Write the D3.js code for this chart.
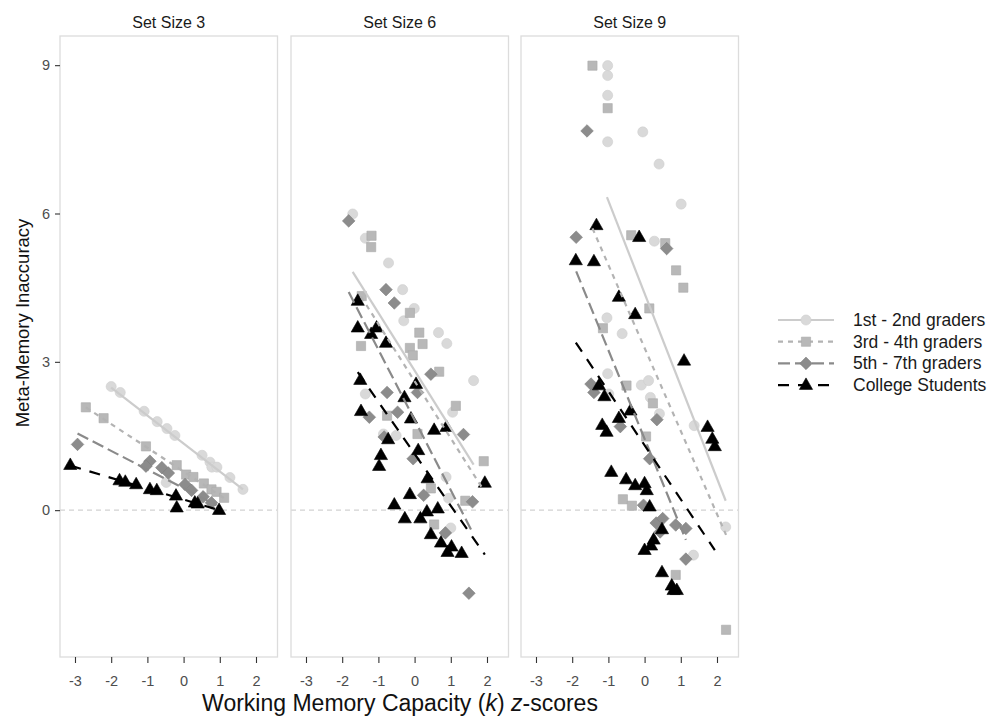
<!DOCTYPE html>
<html>
<head>
<meta charset="utf-8">
<script src="https://cdn.jsdelivr.net/npm/d3@7"></script>
<style>
  html, body { margin: 0; padding: 0; background: #fff; }
  svg { display: block; font-family: "Liberation Sans", Arial, Helvetica, sans-serif; }
</style>
</head>
<body>
<svg id="chart" width="997" height="717"></svg>
<script>
// ---------------- DATA ----------------
const panels = ["Set Size 3", "Set Size 6", "Set Size 9"];
const groups = ["1st - 2nd graders", "3rd - 4th graders", "5th - 7th graders", "College Students"];
const xTicks = [-3, -2, -1, 0, 1, 2];
const yTicks = [0, 3, 6, 9];

// Set Size 3 : [z-score, inaccuracy]
const ss3_g12 = [[-2.0,2.50],[-1.75,2.38],[-1.09,2.00],[-0.73,1.79],[-0.46,1.65],[-0.24,1.51],[-0.48,0.56],[0.51,1.11],[0.73,0.97],[0.78,0.87],[0.92,0.87],[1.28,0.66],[1.64,0.42]];
const ss3_g34 = [[-2.70,2.08],[-2.21,1.86],[-1.04,1.29],[-0.19,0.91],[0.07,0.72],[0.27,0.67],[0.56,0.54],[0.77,0.42],[0.91,0.37],[1.12,0.25]];
const ss3_g57 = [[-2.93,1.33],[-0.93,0.99],[-1.04,0.89],[-0.60,0.86],[-0.42,0.75],[0.04,0.52],[0.22,0.40],[0.54,0.27],[0.77,0.15]];
const ss3_col = [[-3.13,0.91],[-1.77,0.60],[-1.61,0.57],[-1.31,0.52],[-0.93,0.42],[-0.74,0.40],[-0.21,0.29],[-0.19,0.05],[0.31,0.15],[0.39,0.13],[0.98,0.0]];

// Set Size 6
const ss6_g12 = [[-1.71,5.99],[-1.36,5.50],[-0.72,5.00],[-0.33,4.46],[-0.01,4.08],[-0.30,3.83],[0.66,3.59],[0.89,3.37],[1.63,2.62],[-1.36,2.35],[1.05,1.98],[-0.86,1.54],[-0.51,1.51],[0.87,0.67],[0.94,0.24],[1.00,-0.36]];
const ss6_g34 = [[-1.19,5.55],[-1.20,5.32],[-1.46,4.33],[-0.13,3.99],[0.13,3.59],[0.22,3.36],[-0.13,3.28],[-0.05,3.13],[-1.48,3.32],[0.68,2.80],[1.14,2.11],[-0.76,1.91],[0.08,1.54],[1.91,0.99],[0.45,0.44],[1.40,0.19],[0.54,-0.29]];
const ss6_g57 = [[-1.82,5.85],[-0.79,4.46],[-0.56,4.19],[0.45,2.75],[-0.76,2.38],[0.08,2.38],[-1.25,1.88],[-0.47,1.98],[-0.84,1.48],[1.35,1.53],[-0.04,1.04],[0.25,0.30],[1.60,0.17],[0.85,-0.46],[1.50,-1.68]];
const ss6_col = [[-1.57,4.23],[-1.57,3.69],[-1.05,3.69],[-1.20,3.56],[-0.79,3.38],[-1.50,2.63],[0.04,2.55],[-0.28,2.28],[-1.48,2.00],[-0.10,1.85],[-0.73,1.43],[0.54,1.62],[0.88,1.68],[0.10,1.21],[-0.93,1.11],[-0.98,0.89],[0.36,0.64],[1.94,0.55],[-0.13,0.32],[-0.56,0.11],[0.34,-0.03],[0.64,0.03],[-0.27,-0.17],[0.16,-0.17],[0.45,-0.49],[0.73,-0.66],[1.02,-0.74],[0.91,-0.85],[1.30,-0.87]];

// Set Size 9
const ss9_g12 = [[-1.02,8.99],[-1.02,8.79],[-1.02,8.39],[-1.02,7.45],[-0.05,7.65],[0.40,7.00],[1.01,6.19],[0.27,5.44],[-1.04,3.89],[-0.62,3.57],[-1.02,2.76],[-0.99,2.35],[-0.09,2.53],[0.11,2.62],[0.16,2.28],[0.41,1.95],[1.37,1.71],[2.24,-0.34],[1.35,-0.91]];
const ss9_g34 = [[-1.44,8.99],[-1.02,8.13],[-0.37,5.56],[0.57,5.40],[0.87,4.85],[1.07,4.50],[0.13,4.08],[-1.15,3.68],[-0.50,2.52],[0.23,2.16],[0.04,1.49],[-0.60,0.22],[-0.35,0.09],[0.86,-1.31],[2.25,-2.42]];
const ss9_g57 = [[-1.59,7.67],[-1.89,5.52],[0.61,5.29],[-1.48,2.55],[-1.40,2.38],[0.34,1.83],[-0.67,1.69],[0.14,1.04],[-0.03,0.10],[0.32,-0.26],[0.50,-0.17],[0.43,-0.44],[0.86,-0.30],[1.14,-0.37],[1.14,-0.99]];
const ss9_col = [[-1.33,5.76],[-0.15,5.52],[-1.90,5.05],[-1.40,5.03],[-0.71,4.31],[-0.26,3.96],[1.09,3.02],[-1.26,2.52],[-1.11,2.30],[-0.39,2.01],[-0.71,1.86],[-1.17,1.72],[-1.05,1.58],[1.74,1.68],[1.87,1.44],[1.94,1.29],[-0.92,0.77],[-0.51,0.62],[-0.26,0.50],[0.0,0.54],[0.06,0.40],[0.14,0.07],[0.48,-0.39],[0.25,-0.60],[0.18,-0.72],[0.0,-0.81],[0.48,-1.26],[0.75,-1.53],[0.80,-1.62],[0.89,-1.62]];

// fitted regression lines: [xStart, yStart, xEnd, yEnd] per group
const fit_ss3 = [[-2.0,2.48,1.64,0.42],[-2.70,2.08,1.12,0.24],[-2.93,1.55,0.91,0.10],[-3.13,0.90,0.98,0.0]];
const fit_ss6 = [[-1.71,4.82,1.63,0.92],[-1.48,4.32,1.91,0.40],[-1.82,4.41,1.60,-0.45],[-1.57,2.79,1.94,-0.90]];
const fit_ss9 = [[-1.04,6.33,2.24,0.19],[-1.44,5.70,2.25,-0.50],[-1.89,4.83,1.14,-0.60],[-1.90,3.39,1.94,-0.81]];

const panelData = [
  [ss3_g12, ss3_g34, ss3_g57, ss3_col],
  [ss6_g12, ss6_g34, ss6_g57, ss6_col],
  [ss9_g12, ss9_g34, ss9_g57, ss9_col]
];
const panelFits = [fit_ss3, fit_ss6, fit_ss9];

// ---------------- STYLE ----------------
const ptFill   = ["#d9d9d9", "#b8b8b8", "#8c8c8c", "#000000"];
const ptStroke = ["#cfcfcf", "#aaaaaa", "#808080", "#000000"];
const lnColor  = ["#cccccc", "#b3b3b3", "#8a8a8a", "#000000"];
const lnDash   = [null, "5,5", "12,5", "11,9"];
const shapes   = ["circle", "square", "diamond", "triangle"];

function shapePath(s) {
  switch (s) {
    case "circle":  return d3.symbol(d3.symbolCircle, 80)();
    case "square":  return "M-4.6,-4.6H4.6V4.6H-4.6Z";
    case "diamond": return "M0,-6.3L6.3,0L0,6.3L-6.3,0Z";
    case "triangle":return "M0,-7.2L6.6,4.3L-6.6,4.3Z";
  }
}

// ---------------- LAYOUT ----------------
const svg = d3.select("#chart");
const panelLeft = [60, 291, 521];
const panelW = 217.5, panelTop = 36, panelH = 621;

const x = d3.scaleLinear().domain([-3.414, 2.594]).range([0, panelW]);
const y = d3.scaleLinear().domain([-2.97, 9.59]).range([panelH, 0]);

panels.forEach((title, pi) => {
  const g = svg.append("g").attr("transform", `translate(${panelLeft[pi]},${panelTop})`);

  // strip title
  svg.append("text")
    .attr("x", panelLeft[pi] + panelW / 2).attr("y", 28)
    .attr("text-anchor", "middle")
    .attr("font-size", 16).attr("fill", "#1a1a1a")
    .text(title);

  // zero reference line
  g.append("line")
    .attr("x1", 0).attr("x2", panelW)
    .attr("y1", y(0)).attr("y2", y(0))
    .attr("stroke", "#d2d2d2").attr("stroke-width", 1.2)
    .attr("stroke-dasharray", "5,4");

  // points
  panelData[pi].forEach((pts, gi) => {
    g.append("g").selectAll("path").data(pts).join("path")
      .attr("d", shapePath(shapes[gi]))
      .attr("transform", d => `translate(${x(d[0])},${y(d[1])})`)
      .attr("fill", ptFill[gi])
      .attr("stroke", ptStroke[gi]).attr("stroke-width", 0.6);
  });

  // fitted lines
  panelFits[pi].forEach((f, gi) => {
    g.append("line")
      .attr("x1", x(f[0])).attr("y1", y(f[1]))
      .attr("x2", x(f[2])).attr("y2", y(f[3]))
      .attr("stroke", lnColor[gi]).attr("stroke-width", 2.2)
      .attr("stroke-dasharray", lnDash[gi]);
  });

  // panel border
  g.append("rect")
    .attr("x", 0).attr("y", 0).attr("width", panelW).attr("height", panelH)
    .attr("fill", "none").attr("stroke", "#dcdcdc").attr("stroke-width", 1.3);

  // x axis
  const xa = g.append("g").attr("transform", `translate(0,${panelH})`)
    .call(d3.axisBottom(x).tickValues(xTicks).tickSize(6).tickPadding(13).tickFormat(d => String(d)));
  xa.select(".domain").remove();
  xa.selectAll(".tick line").attr("stroke", "#333").attr("stroke-width", 1.1);
  xa.selectAll(".tick text").attr("font-size", 14.5).attr("fill", "#4d4d4d")
    .attr("font-family", "Liberation Sans, Arial, sans-serif");

  if (pi === 0) {
    const ya = g.append("g")
      .call(d3.axisLeft(y).tickValues(yTicks).tickSize(5).tickPadding(5).tickFormat(d => String(d)));
    ya.select(".domain").remove();
    ya.selectAll(".tick line").attr("stroke", "#333").attr("stroke-width", 1.1);
    ya.selectAll(".tick text").attr("font-size", 14.5).attr("fill", "#4d4d4d")
      .attr("font-family", "Liberation Sans, Arial, sans-serif");
  }
});

// axis titles
const xt = svg.append("text")
  .attr("x", 400).attr("y", 711)
  .attr("text-anchor", "middle").attr("font-size", 23).attr("fill", "#111");
xt.append("tspan").text("Working Memory Capacity (");
xt.append("tspan").attr("font-style", "italic").text("k");
xt.append("tspan").text(") ");
xt.append("tspan").attr("font-style", "italic").text("z");
xt.append("tspan").text("-scores");

svg.append("text")
  .attr("transform", "translate(29,323) rotate(-90)")
  .attr("text-anchor", "middle").attr("font-size", 18.5).attr("fill", "#111")
  .text("Meta-Memory Inaccuracy");

// legend
const legend = svg.append("g").attr("transform", "translate(778,320)");
groups.forEach((name, gi) => {
  const row = legend.append("g").attr("transform", `translate(0,${gi * 21.7})`);
  row.append("line").attr("x1", 0).attr("x2", 56).attr("y1", 0).attr("y2", 0)
    .attr("stroke", lnColor[gi]).attr("stroke-width", 2.2)
    .attr("stroke-dasharray", lnDash[gi]);
  row.append("path").attr("d", shapePath(shapes[gi]))
    .attr("transform", "translate(28,0)")
    .attr("fill", ptFill[gi]).attr("stroke", ptStroke[gi]).attr("stroke-width", 0.6);
  row.append("text").attr("x", 75).attr("y", 6)
    .attr("font-size", 17.5).attr("fill", "#1a1a1a").text(name);
});
</script>
</body>
</html>
